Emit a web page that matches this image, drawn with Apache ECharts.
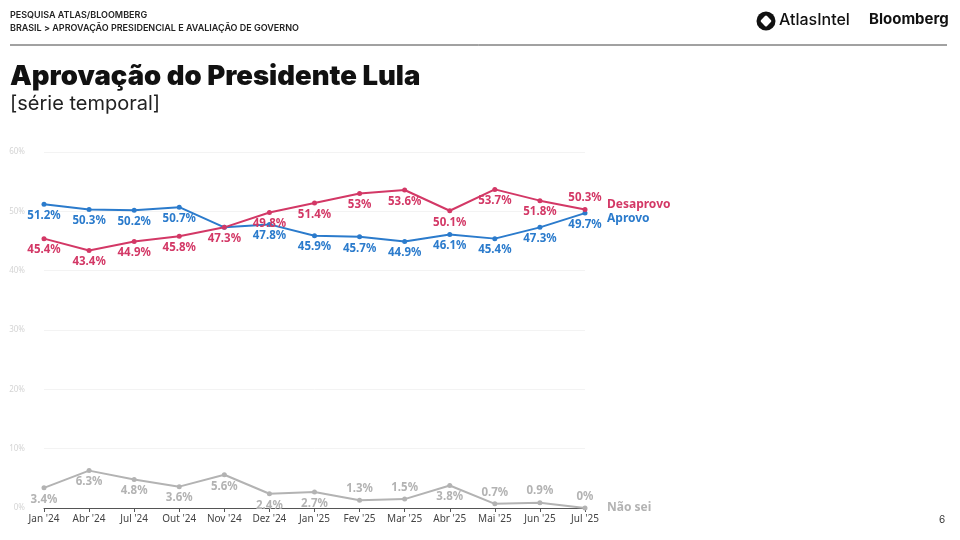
<!DOCTYPE html>
<html>
<head>
<meta charset="utf-8">
<script src="https://cdn.jsdelivr.net/npm/echarts@6/dist/echarts.min.js"></script>
<style>
  html, body { margin: 0; padding: 0; background: #fff; }
  #chart { width: 960px; height: 540px; }
</style>
</head>
<body>
<div id="chart"></div>
<script>
const months = ["Jan '24", "Abr '24", "Jul '24", "Out '24", "Nov '24", "Dez '24", "Jan '25",
  "Fev '25", "Mar '25", "Abr '25", "Mai '25", "Jun '25", "Jul '25"];
const aprovo = [51.2, 50.3, 50.2, 50.7, 47.3, 47.8, 45.9, 45.7, 44.9, 46.1, 45.4, 47.3, 49.7];
const desaprovo = [45.4, 43.4, 44.9, 45.8, 47.3, 49.8, 51.4, 53, 53.6, 50.1, 53.7, 51.8, 50.3];
const naoSei = [3.4, 6.3, 4.8, 3.6, 5.6, 2.4, 2.7, 1.3, 1.5, 3.8, 0.7, 0.9, 0];
const yTicks = [0, 10, 20, 30, 40, 50, 60];

const BLUE = '#2b7bcc';
const RED = '#d33866';
const GRAY = '#b3b3b3';
const FONT = '"Noto Sans", "DejaVu Sans", sans-serif';

const myChart = echarts.init(document.getElementById('chart'));

// rótulos: índices com rótulo acima do ponto
const naoSeiTop = [7, 8, 10, 11, 12];
const desaprovoTop = [12];

const mkData = (arr, topIdx, hideIdx) => arr.map((v, i) => {
  const d = { value: v };
  if (hideIdx && hideIdx.includes(i)) d.label = { show: false };
  else if (topIdx.includes(i)) d.label = { position: 'top' };
  return d;
});

const lineSeries = (name, data, color, endOffset) => ({
  name,
  type: 'line',
  data,
  symbol: 'circle',
  symbolSize: 5,
  lineStyle: { width: 2, color },
  itemStyle: { color },
  label: {
    show: true,
    position: 'bottom',
    distance: 3,
    formatter: p => p.value + '%',
    color,
    fontFamily: FONT,
    fontWeight: 'bold',
    fontSize: 11.5
  },
  endLabel: {
    show: true,
    formatter: name,
    color,
    fontFamily: FONT,
    fontWeight: 'bold',
    fontSize: 12,
    distance: 22,
    offset: endOffset
  },
  emphasis: { disabled: true },
  animation: false
});

const option = {
  animation: false,
  grid: { left: 44, right: 375, top: 152, bottom: 32 },
  xAxis: {
    type: 'category',
    data: months,
    boundaryGap: false,
    axisLine: { lineStyle: { color: '#555', width: 1 } },
    axisTick: { show: true, alignWithLabel: true, interval: 0, length: 4, lineStyle: { color: '#555' } },
    axisLabel: { interval: 0, color: '#444', fontFamily: FONT, fontSize: 10, margin: 6 }
  },
  yAxis: {
    type: 'value',
    min: yTicks[0],
    max: yTicks[yTicks.length - 1],
    interval: 10,
    axisLabel: { formatter: '{value}%', color: '#d4d4d4', fontFamily: FONT, fontSize: 8, margin: 19 },
    splitLine: { lineStyle: { color: '#f3f3f3', width: 1 } },
    axisLine: { show: false },
    axisTick: { show: false }
  },
  series: [
    lineSeries('Aprovo', mkData(aprovo, [], [4]), BLUE, [0, 5]),
    lineSeries('Desaprovo', mkData(desaprovo, desaprovoTop), RED, [0, -5]),
    lineSeries('Não sei', mkData(naoSei, naoSeiTop), GRAY, [0, 0])
  ],
  graphic: [
    { type: 'text', left: 10, top: 11, style: { text: 'PESQUISA ATLAS/BLOOMBERG', fill: '#222', font: '600 9px "Inter", sans-serif' } },
    { type: 'text', left: 10, top: 24, style: { text: 'BRASIL > APROVAÇÃO PRESIDENCIAL E AVALIAÇÃO DE GOVERNO', fill: '#222', font: '600 9px "Inter", sans-serif' } },
    { type: 'line', shape: { x1: 10, y1: 45, x2: 947, y2: 45 }, style: { stroke: '#444', lineWidth: 1 } },
    { type: 'text', left: 10, top: 63, style: { text: 'Aprovação do Presidente Lula', fill: '#111', font: '900 27.5px "Inter", sans-serif' } },
    { type: 'text', left: 10, top: 94, style: { text: '[série temporal]', fill: '#222', font: '400 20px "Inter", sans-serif' } },
    // logo AtlasIntel
    { type: 'circle', shape: { cx: 766, cy: 21, r: 9.5 }, style: { fill: '#111' } },
    { type: 'rect', x: 766, y: 21, shape: { x: -4.2, y: -4.2, width: 8.4, height: 8.4, r: 1.5 }, rotation: Math.PI / 4, style: { fill: '#fff' } },
    { type: 'text', left: 779, top: 12, style: { text: 'AtlasIntel', fill: '#111', font: '500 16px "Inter", sans-serif' } },
    { type: 'text', left: 869, top: 12, style: { text: 'Bloomberg', fill: '#111', font: '700 15px "Inter", sans-serif' } },
    { type: 'text', left: 939, top: 515, style: { text: '6', fill: '#333', font: '400 10px "Inter", sans-serif' } }
  ]
};

myChart.setOption(option);
</script>
</body>
</html>
